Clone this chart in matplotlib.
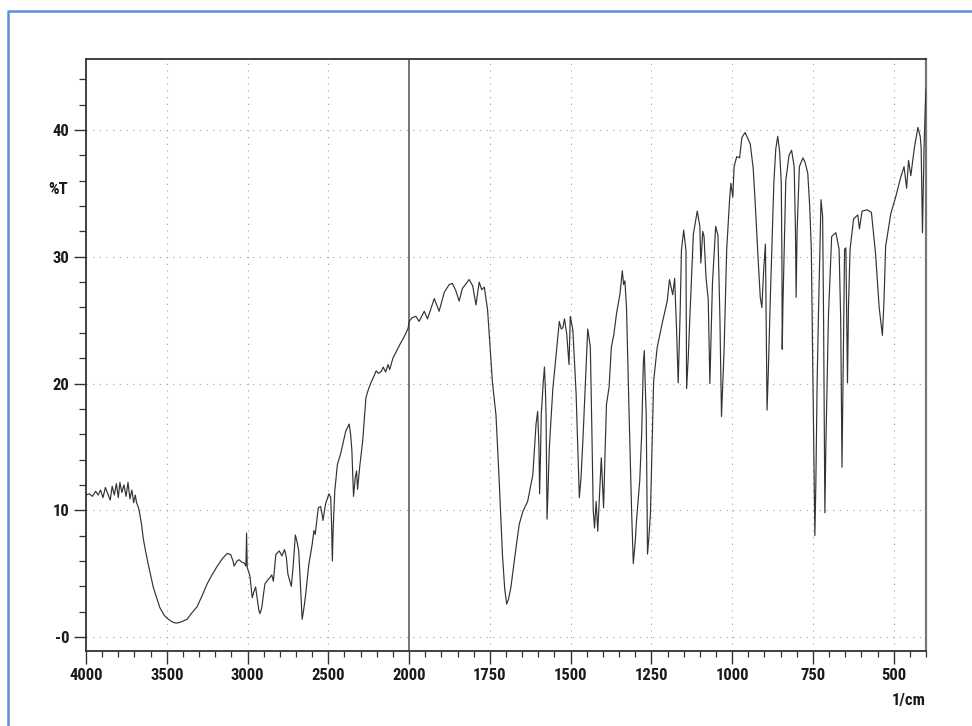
import numpy as np
import matplotlib
matplotlib.use("Agg")
import matplotlib.pyplot as plt
from matplotlib.ticker import FixedLocator, FixedFormatter, NullFormatter
from matplotlib.lines import Line2D
from matplotlib import font_manager

# ---------------- data ----------------
wavenumber = [
    4000, 3980, 3960, 3940, 3925, 3910, 3895, 3880, 3865, 3850, 3838, 3825, 3812, 3800,
    3790, 3778, 3765, 3752, 3740, 3728, 3716, 3705, 3695, 3687, 3675, 3667, 3655, 3646,
    3630, 3614, 3583, 3560, 3542, 3515, 3490, 3460, 3437, 3410, 3375, 3345, 3312, 3280,
    3250, 3220, 3187, 3155, 3125, 3104, 3090, 3083, 3065, 3052, 3035, 3021, 3010, 3006,
    3002, 2995, 2985, 2971, 2960, 2950, 2940, 2930, 2923, 2912, 2900, 2892, 2875, 2861,
    2850, 2840, 2825, 2804, 2787, 2771, 2760, 2750, 2740, 2729, 2718, 2704, 2695, 2683,
    2672, 2662, 2652, 2642, 2621, 2600, 2589, 2581, 2570, 2562, 2548, 2540, 2533, 2517,
    2496, 2485, 2480, 2475, 2470, 2460, 2444, 2423, 2405, 2392, 2371, 2362, 2354, 2344,
    2333, 2325, 2319, 2305, 2287, 2267, 2250, 2235, 2220, 2204, 2190, 2172, 2160, 2145,
    2130, 2120, 2100, 2080, 2058, 2030, 2006, 2000,
    1990, 1979, 1969, 1953, 1943, 1922, 1907, 1891, 1876, 1866, 1855, 1845, 1835, 1814,
    1803, 1793, 1783, 1775, 1767, 1757, 1742, 1731, 1721, 1711, 1704, 1698, 1692, 1685,
    1669, 1659, 1648, 1633, 1617, 1607, 1602, 1598, 1596, 1593, 1591, 1585, 1581, 1578,
    1576, 1573, 1570, 1566, 1555, 1543, 1535, 1529, 1524, 1519, 1512, 1505, 1501, 1493,
    1483, 1476, 1473, 1468, 1462, 1454, 1447, 1439, 1434, 1430, 1426, 1421, 1416, 1410,
    1405, 1398, 1394, 1389, 1381, 1374, 1366, 1358, 1347, 1340, 1336, 1332, 1327, 1319,
    1311, 1306, 1300, 1296, 1286, 1280, 1275, 1272, 1268, 1266, 1262, 1258, 1253, 1243,
    1232, 1217, 1201, 1194, 1184, 1178, 1172, 1167, 1161, 1157, 1150, 1143, 1141, 1136,
    1131, 1120, 1108, 1100, 1097, 1091, 1087, 1081, 1074, 1069, 1061, 1051, 1044, 1038,
    1033, 1025, 1017, 1008, 1004, 998, 994, 986, 977, 970, 960, 944, 935, 929,
    920, 913, 908, 902, 897, 895, 892, 888, 882, 871, 865, 859, 853, 848,
    846, 845, 843, 834, 824, 816, 808, 804, 802, 799, 792, 781, 775, 766,
    760, 755, 750, 746, 744, 741, 737, 733, 725, 720, 717, 713, 710, 702,
    692, 679, 669, 664, 660, 656, 652, 648, 643, 640, 635, 624, 611, 606,
    598, 582, 569, 556, 545, 535, 530, 525, 509, 494, 478, 468, 460, 454,
    447, 436, 425, 418, 415, 411, 408, 406, 402, 400,
]
transmittance = [
    11.2, 11.3, 11.1, 11.5, 11.2, 11.6, 11.0, 11.8, 11.3, 10.8, 11.9, 11.2, 12.1, 11.0,
    12.2, 11.4, 12.0, 11.1, 12.2, 10.9, 11.6, 10.6, 11.2, 10.6, 10.2, 9.7, 8.8, 7.8,
    6.7, 5.7, 3.9, 3.0, 2.3, 1.7, 1.4, 1.15, 1.1, 1.2, 1.4, 1.9, 2.4, 3.3,
    4.2, 4.9, 5.6, 6.2, 6.6, 6.5, 6.0, 5.6, 6.0, 6.1, 5.9, 5.85, 5.6, 8.2,
    5.5, 5.2, 4.8, 3.1, 3.6, 3.95, 3.0, 2.1, 1.85, 2.3, 3.5, 4.2, 4.5, 4.7,
    4.9, 4.4, 6.5, 6.8, 6.4, 6.9, 6.3, 4.96, 4.5, 4.0, 5.5, 8.05, 7.6, 6.8,
    4.0, 1.4, 2.2, 3.15, 5.7, 7.3, 8.4, 8.1, 9.3, 10.2, 10.3, 9.8, 9.2, 10.5,
    11.3, 11.0, 9.0, 6.0, 8.5, 11.5, 13.6, 14.5, 15.5, 16.25, 16.8, 16.0, 14.7, 11.1,
    12.6, 13.1, 11.65, 13.5, 15.5, 18.9, 19.6, 20.1, 20.5, 21.0, 20.8, 20.95, 21.3, 20.9,
    21.5, 21.1, 22.0, 22.5, 23.05, 23.7, 24.35, 24.9,
    25.2, 25.3, 24.9, 25.7, 25.1, 26.7, 25.7, 27.2, 27.8, 27.9, 27.3, 26.5, 27.5, 28.2,
    27.7, 26.2, 28.0, 27.4, 27.6, 25.8, 20.1, 17.5, 12.3, 6.5, 3.8, 2.6, 3.0, 3.9,
    7.05, 8.9, 9.9, 10.7, 12.8, 16.8, 17.8, 15.0, 11.3, 14.5, 17.5, 20.0, 21.3, 19.5,
    17.5, 9.3, 11.5, 14.9, 19.6, 22.8, 24.9, 24.3, 24.4, 25.1, 23.9, 21.5, 25.3, 24.2,
    19.2, 13.5, 11.0, 12.5, 15.5, 20.2, 24.3, 22.9, 16.0, 10.0, 8.6, 10.7, 8.35, 11.5,
    14.15, 10.2, 14.0, 18.35, 19.7, 22.85, 23.9, 25.5, 27.1, 28.9, 27.8, 28.1, 26.0, 17.6,
    9.75, 5.8, 7.5, 9.2, 12.35, 16.0, 21.55, 22.6, 19.0, 17.6, 6.55, 7.8, 9.7, 20.2,
    22.85, 24.7, 26.5, 28.2, 27.0, 28.3, 24.2, 20.05, 25.6, 30.5, 32.1, 30.5, 19.6, 22.0,
    25.2, 31.8, 33.6, 32.4, 29.5, 32.0, 31.6, 28.4, 26.6, 20.0, 27.9, 32.4, 31.7, 25.3,
    17.4, 22.6, 30.5, 34.5, 35.8, 34.7, 37.1, 37.9, 37.8, 39.4, 39.8, 38.9, 37.0, 34.4,
    30.0, 26.8, 26.0, 29.15, 31.0, 26.0, 17.9, 21.0, 26.6, 35.8, 38.5, 39.5, 38.3, 35.8,
    30.0, 22.7, 26.0, 36.0, 38.0, 38.4, 37.1, 32.0, 26.8, 32.0, 37.1, 37.8, 37.5, 36.6,
    34.0, 30.6, 20.0, 11.0, 8.0, 12.0, 20.0, 25.3, 34.5, 33.2, 25.0, 9.8, 15.0, 25.3,
    31.6, 31.9, 30.6, 25.0, 13.4, 22.0, 30.6, 30.7, 20.05, 26.0, 30.6, 33.0, 33.3, 32.2,
    33.6, 33.7, 33.5, 30.2, 26.0, 23.8, 26.5, 30.8, 33.4, 34.7, 36.3, 37.1, 35.4, 37.6,
    36.4, 38.6, 40.2, 39.5, 38.6, 31.9, 36.0, 38.6, 42.0, 43.2,
]

x_ticks = [4000, 3500, 3000, 2500, 2000, 1750, 1500, 1250, 1000, 750, 500]
x_tick_labels = ["4000", "3500", "3000", "2500", "2000", "1750", "1500", "1250", "1000", "750", "500"]
x_minor = list(range(4000, 2000, -100)) + list(range(2000, 399, -50))
x_grid = [3500, 3000, 2500, 1750, 1500, 1250, 1000, 750, 500]
y_ticks = [0, 10, 20, 30, 40]
y_tick_labels = ["-0", "10", "20", "30", "40"]
y_minor = list(range(0, 46, 2))
y_title = "%T"
x_title = "1/cm"

# ---------------- font: prefer a narrow face like the scan ----------------
available = {f.name for f in font_manager.fontManager.ttflist}
candidates = ["Liberation Sans Narrow", "Arial Narrow", "Roboto Condensed",
              "DejaVu Sans Condensed", "Liberation Sans", "DejaVu Sans"]
FAM = next((c for c in candidates if c in available), "DejaVu Sans")
plt.rcParams["font.family"] = [FAM, "DejaVu Sans"]
WEIGHT = "bold"
FS = 12 if FAM in ("Liberation Sans Narrow", "Arial Narrow", "Roboto Condensed") else 10.5

W, H = 972, 726
fig = plt.figure(figsize=(W / 100, H / 100), dpi=100, facecolor="white")
L, R, T_, B = 86, 926, 59, 651
ax = fig.add_axes([L / W, 1 - B / H, (R - L) / W, (B - T_) / H])


def fwd(x):
    x = np.asarray(x, dtype=float)
    return np.where(x > 2000, 2000 + (x - 2000) / 2.0, x)


def inv(t):
    t = np.asarray(t, dtype=float)
    return np.where(t > 2000, 2000 + 2.0 * (t - 2000), t)


ax.set_xscale("function", functions=(fwd, inv))
ax.set_xlim(4000, 400)
ax.set_ylim(-1.1, 45.6)

# grid (dotted, sparse like the scan)
for v in x_grid:
    ax.axvline(v, color="#a0a0a0", lw=0.8, ls=(0, (1, 5)), zorder=1)
for v in y_ticks:
    ax.axhline(v, color="#a0a0a0", lw=0.8, ls=(0, (1, 5)), zorder=1)
ax.axvline(2000, color="#505050", lw=1.1, zorder=2)

ax.plot(wavenumber, transmittance, color="#333333", lw=0.85, zorder=3)

ax.xaxis.set_major_locator(FixedLocator(x_ticks))
ax.xaxis.set_major_formatter(FixedFormatter(x_tick_labels))
ax.xaxis.set_minor_locator(FixedLocator(x_minor))
ax.xaxis.set_minor_formatter(NullFormatter())
ax.yaxis.set_major_locator(FixedLocator(y_ticks))
ax.yaxis.set_major_formatter(FixedFormatter(y_tick_labels))
ax.yaxis.set_minor_locator(FixedLocator(y_minor))
ax.yaxis.set_minor_formatter(NullFormatter())

ax.tick_params(axis="x", which="major", direction="out", length=9, width=1.0,
               color="#333333", pad=3, labelsize=FS)
ax.tick_params(axis="x", which="minor", direction="out", length=4, width=0.9, color="#333333")
ax.tick_params(axis="y", which="major", direction="out", length=9, width=1.0,
               color="#333333", pad=3, labelsize=FS)
ax.tick_params(axis="y", which="minor", direction="out", length=5, width=0.9, color="#333333")
for lab in ax.get_xticklabels() + ax.get_yticklabels():
    lab.set_fontweight(WEIGHT)
    lab.set_fontsize(FS)
    lab.set_color("#1a1a1a")

for side, sp in ax.spines.items():
    sp.set_color("#333333")
    sp.set_linewidth(1.3)
ax.spines["right"].set_color("#777777")
ax.spines["right"].set_linewidth(1.6)

fig.text(68 / W, 1 - 190 / H, y_title, ha="right", va="center", fontsize=FS,
         fontweight=WEIGHT, color="#1a1a1a")
fig.text(926 / W, 1 - 700 / H, x_title, ha="right", va="center", fontsize=FS,
         fontweight=WEIGHT, color="#1a1a1a")

# blue frame of the screenshot
fig.add_artist(Line2D([7.5 / W, 7.5 / W, 1.0], [0.0, 1 - 10.5 / H, 1 - 10.5 / H],
                      transform=fig.transFigure, color="#5b8fd9", lw=1.8))

fig.savefig("out.png", dpi=100, facecolor="white")
